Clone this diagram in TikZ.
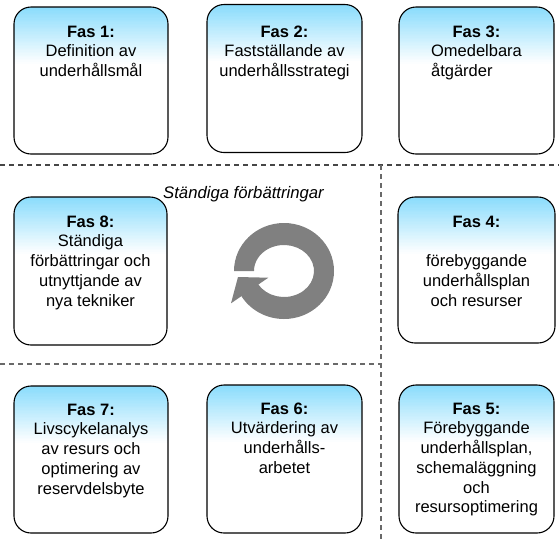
\documentclass[tikz,border=0pt]{standalone}
\usepackage{fontspec}
\setmainfont{Liberation Sans}
\usetikzlibrary{fit}
\definecolor{topblue}{RGB}{138,220,252}
\definecolor{dashdark}{RGB}{70,70,70}
\definecolor{dashgray}{RGB}{105,105,105}
\definecolor{ringgray}{RGB}{128,128,128}
\newcommand{\fl}{\rule{0pt}{13pt}}
% #1 name, #2 x1, #3 y1 (top), #4 x2, #5 y2 (bottom)
\newcommand{\gradbox}[5]{%
  \begin{scope}
    \clip[rounded corners=17pt] (#2,#3) rectangle (#4,#5);
    \fill[white] (#2,#3) rectangle (#4,#5);
    \foreach \k in {0,...,39} {
      \pgfmathsetmacro\pc{100-2.5*\k}
      \fill[topblue!\pc!white] (#2,{#3+1.4*\k}) rectangle (#4,{#3+1.4*\k+2});
    }
  \end{scope}
  \node[phasebox, fit={(#2,#3) (#4,#5)}] (#1) {};
}
\begin{document}
\begin{tikzpicture}[x=1pt,y=-1pt,
  phasebox/.style={draw=black, line width=1.1pt, rounded corners=17pt, inner sep=0pt},
  phasetext/.style={anchor=north, align=center, font=\fontsize{16.5}{19.7}\selectfont, inner sep=0pt},
  divider/.style={line width=1.2pt, dash pattern=on 5pt off 4pt}]
\useasboundingbox (0,0) rectangle (559,539);

% dashed dividers
\coordinate (h1a) at (0,165);
\coordinate (h1b) at (559,165);
\coordinate (v1a) at (381,165);
\coordinate (v1b) at (381,539);
\coordinate (h2a) at (0,364);
\coordinate (h2b) at (381,364);
\draw[divider, dashdark] (h1a) -- (h1b);
\draw[divider, dashgray] (v1a) -- (v1b);
\draw[divider, dashgray] (h2a) -- (h2b);

% boxes
\gradbox{b1}{14}{7}{168}{154}
\gradbox{b2}{207}{4.5}{362}{152.5}
\gradbox{b3}{399}{7}{554}{154}
\gradbox{b8}{14}{197}{167}{345}
\gradbox{b4}{398}{197}{555}{343}
\gradbox{b7}{14}{386}{168}{533}
\gradbox{b6}{207}{385}{362}{533}
\gradbox{b5}{399}{385}{554}{533}

% texts (node top = first baseline - 13)
\node[phasetext] (t1) at (91,24) {\fl\textbf{Fas 1:}\\Definition av\\underhållsmål};
\node[phasetext] (t2) at (284.5,24) {\fl\textbf{Fas 2:}\\Fastställande av\\underhållsstrategi};
\node[phasetext] (t3) at (476.5,24) {\fl\textbf{Fas 3:}};
\node[phasetext, align=left] (t3b) at (476.5,43.7) {\fl Omedelbara\\åtgärder};
\node[phasetext] (t8) at (90.5,214) {\fl\textbf{Fas 8:}\\Ständiga\\förbättringar och\\utnyttjande av\\nya tekniker};
\node[phasetext] (t4) at (476.5,214) {\fl\textbf{Fas 4:}\\\strut\\förebyggande\\underhållsplan\\och resurser};
\node[phasetext] (t7) at (91,402) {\fl\textbf{Fas 7:}\\Livscykelanalys\\av resurs och\\optimering av\\reservdelsbyte};
\node[phasetext] (t6) at (284.5,401) {\fl\textbf{Fas 6:}\\Utvärdering av\\underhålls-\\arbetet};
\node[phasetext] (t5) at (476.5,401) {\fl\textbf{Fas 5:}\\Förebyggande\\underhållsplan,\\schemaläggning\\och\\resursoptimering};

% caption
\node[anchor=base west, inner sep=0pt, font=\fontsize{16.7}{20}\selectfont\itshape] (cap) at (163,198) {Ständiga förbättringar};

% circular arrow
\fill[ringgray] (234,271) arc[start angle=-180, end angle=150, x radius=50, y radius=48]
  -- (258,284) arc[start angle=150, end angle=-180, x radius=30, y radius=26] -- cycle;
\fill[ringgray] (238,277) -- (268.3,277.7) -- (231,303.3) -- cycle;
\end{tikzpicture}
\end{document}
